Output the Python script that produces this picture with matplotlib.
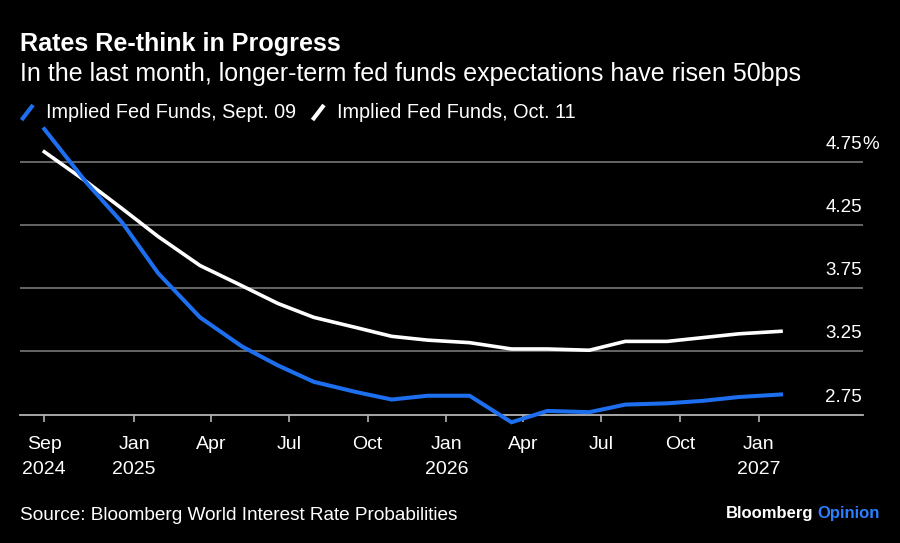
import matplotlib
matplotlib.use("Agg")
import matplotlib.pyplot as plt
import matplotlib.dates as mdates
import matplotlib.transforms as mtransforms
import numpy as np
import datetime as dt

# ---- data ----
meeting_dates = ["2024-09-18", "2024-11-07", "2024-12-18", "2025-01-29", "2025-03-19",
                 "2025-05-07", "2025-06-18", "2025-07-30", "2025-09-17", "2025-10-29",
                 "2025-12-10", "2026-01-28", "2026-03-18", "2026-04-29", "2026-06-17",
                 "2026-07-29", "2026-09-16", "2026-10-28", "2026-12-09", "2027-01-27"]
implied_sep09 = [5.01, 4.58, 4.27, 3.87, 3.52, 3.29, 3.14, 3.01, 2.93, 2.87,
                 2.90, 2.90, 2.69, 2.78, 2.77, 2.83, 2.84, 2.86, 2.89, 2.91]
implied_oct11 = [4.83, 4.59, 4.38, 4.16, 3.93, 3.77, 3.63, 3.52, 3.44, 3.37,
                 3.34, 3.32, 3.27, 3.27, 3.26, 3.33, 3.33, 3.36, 3.39, 3.41]
series_names = ["Implied Fed Funds, Sept. 09", "Implied Fed Funds, Oct. 11"]
x_tick_dates = ["2024-09-18", "2025-01-01", "2025-04-01", "2025-07-01", "2025-10-01",
                "2026-01-01", "2026-04-01", "2026-07-01", "2026-10-01", "2027-01-01"]
x_tick_labels = ["Sep\n2024", "Jan\n2025", "Apr", "Jul", "Oct",
                 "Jan\n2026", "Apr", "Jul", "Oct", "Jan\n2027"]
y_ticks = [2.75, 3.25, 3.75, 4.25, 4.75]
y_tick_labels = ["2.75", "3.25", "3.75", "4.25", "4.75"]

title = "Rates Re-think in Progress"
subtitle = "In the last month, longer-term fed funds expectations have risen 50bps"
source = "Source: Bloomberg World Interest Rate Probabilities"

# ---- style ----
BG = "#000000"
BLUE = "#1d6ff0"
WHITE = "#ffffff"
GRID = "#6e6e6e"
AXIS = "#b4b4b4"
TXT = "#ffffff"
FONT = ["Liberation Sans", "DejaVu Sans"]
plt.rcParams["font.family"] = FONT

W, H = 900, 543
fig = plt.figure(figsize=(W / 100, H / 100), dpi=100, facecolor=BG)

def fx(px):
    return px / W

def fy(py):
    return 1 - py / H

# axes in pixel geometry
ax_left, ax_right = 20, 863
y_bottom_px, px_per_pct = 414.7, 126.4
y_lo, y_hi = 2.75, 5.10
ax_top_px = y_bottom_px - (y_hi - y_lo) * px_per_pct
ax = fig.add_axes([fx(ax_left), fy(y_bottom_px), fx(ax_right - ax_left),
                   (y_bottom_px - ax_top_px) / H])
ax.set_facecolor(BG)

xd = [mdates.date2num(dt.datetime.strptime(d, "%Y-%m-%d")) for d in meeting_dates]
# horizontal mapping: first point at 44.3px, last at 781px
p0, p1 = 44.3, 781.0
scale = (p1 - p0) / (xd[-1] - xd[0])
ax.set_xlim(xd[0] - (p0 - ax_left) / scale, xd[-1] + (ax_right - p1) / scale)
ax.set_ylim(y_lo, y_hi)

for v in y_ticks[1:]:
    ax.axhline(v, color=GRID, lw=1.3, zorder=1)

ax.plot(xd, implied_oct11, color=WHITE, lw=2.6, zorder=3, clip_on=False,
        solid_joinstyle="miter")
ax.plot(xd, implied_sep09, color=BLUE, lw=2.9, zorder=4, clip_on=False,
        solid_joinstyle="miter")

for s in ["top", "right", "left"]:
    ax.spines[s].set_visible(False)
ax.spines["bottom"].set_color(AXIS)
ax.spines["bottom"].set_linewidth(1.3)
ax.set_yticks([])

xt = [mdates.date2num(dt.datetime.strptime(d, "%Y-%m-%d")) for d in x_tick_dates]
ax.set_xticks(xt)
ax.set_xticklabels(x_tick_labels, color=TXT, fontsize=14, linespacing=1.58)
ax.tick_params(axis="x", direction="out", length=5, width=1.2, color=AXIS, pad=10.5)

# right-side y labels, placed above their gridlines
yt_trans = mtransforms.offset_copy(
    mtransforms.blended_transform_factory(ax.transAxes, ax.transData),
    fig=fig, x=-1.0, y=17.5, units="dots")
for v, lab in zip(y_ticks, y_tick_labels):
    ax.text(1.0, v, lab, transform=yt_trans, ha="right", va="center",
            color=TXT, fontsize=13.5)
pct_trans = mtransforms.offset_copy(
    mtransforms.blended_transform_factory(ax.transAxes, ax.transData),
    fig=fig, x=-0.5, y=17.5, units="dots")
ax.text(1.0, y_ticks[-1], "%", transform=pct_trans, ha="left", va="center",
        color=TXT, fontsize=13.5)

# header
fig.text(fx(20), fy(51.5), title, color=TXT, fontsize=18.1, fontweight="bold",
         va="baseline", ha="left")
fig.text(fx(20), fy(80.5), subtitle, color=TXT, fontsize=18.0,
         va="baseline", ha="left")

# legend
leg_y = 112
fig.add_artist(plt.Line2D([fx(21.5), fx(33)], [fy(120), fy(105)], color=BLUE, lw=3.0,
                          solid_capstyle="butt"))
fig.text(fx(46), fy(leg_y), series_names[0], color=TXT, fontsize=14.3,
         va="center", ha="left")
fig.add_artist(plt.Line2D([fx(312.5), fx(324)], [fy(120), fy(105)], color=WHITE, lw=3.0,
                          solid_capstyle="butt"))
fig.text(fx(337), fy(leg_y), series_names[1], color=TXT, fontsize=14.3,
         va="center", ha="left")

# footer
fig.text(fx(20), fy(520.5), source, color=TXT, fontsize=13.7, va="baseline", ha="left")
t_op = fig.text(fx(880), fy(518), "Opinion", color="#2b7fff", fontsize=12,
                fontweight="bold", va="baseline", ha="right")
fig.canvas.draw()
bb = t_op.get_window_extent()
fig.text(bb.x0 / W - fx(4), fy(518), "Bloomberg", color=TXT, fontsize=12,
         fontweight="bold", va="baseline", ha="right")

fig.savefig("out.png", dpi=100, facecolor=BG)
